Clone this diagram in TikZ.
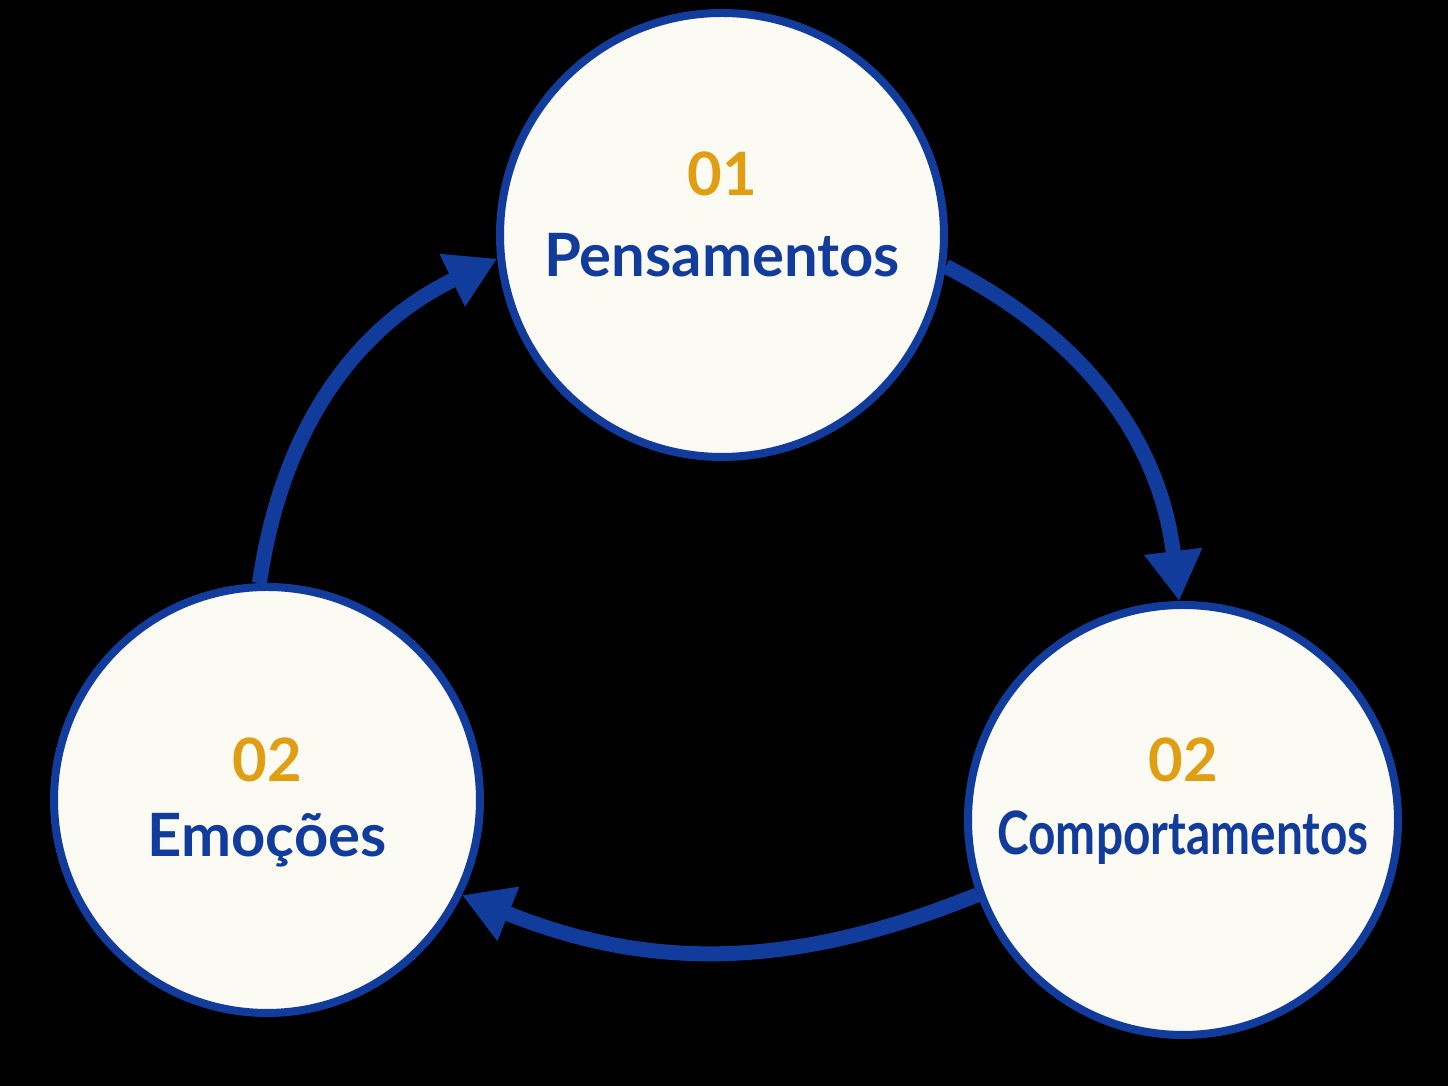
\documentclass[tikz,border=0pt]{standalone}
\usepackage{fontspec}
\setmainfont{Lato}
\usetikzlibrary{positioning,arrows.meta}
\definecolor{ringblue}{HTML}{123C9C}
\definecolor{numorange}{HTML}{E09E12}
\definecolor{cream}{HTML}{FBFAF3}

\begin{document}
\begin{tikzpicture}[every node/.style={font=\bfseries},
  stage/.style={draw=ringblue,line width=0.08cm,circle,fill=cream},
  flow/.style={draw=ringblue,line width=0.15cm,-{Triangle[length=0.5cm,width=0.55cm]}},
  num/.style={text=numorange,font=\fontsize{17}{20}\selectfont\bfseries},
  lbl/.style={text=ringblue,font=\fontsize{17}{20}\selectfont\bfseries}]

\fill[black] (0,0) rectangle (14.48,10.86);

\node[stage,minimum size=4.44cm] (top) at (7.22,8.51) {};
\node[stage,minimum size=4.26cm] (left) at (2.67,2.86) {};
\node[stage,minimum size=4.30cm] (right) at (11.83,2.66) {};

\node[num] (n1) at (7.22,9.12) {01};
\node[lbl] (t1) at (7.22,8.31) {Pensamentos};
\node[num] (n2) at (2.67,3.26) {02};
\node[lbl] (t2) at (2.67,2.46) {Emoções};
\node[num] (n3) at (11.83,3.26) {02};
\node[lbl,xscale=0.8] (t3) at (11.83,2.48) {Comportamentos};

\draw[flow] (top.-8) to[bend left=28] (right.91);
\draw[flow] (right.200) to[bend left=22] (left.-26);
\draw[flow] (left.92) to[bend left=28] (top.186);

\end{tikzpicture}
\end{document}
